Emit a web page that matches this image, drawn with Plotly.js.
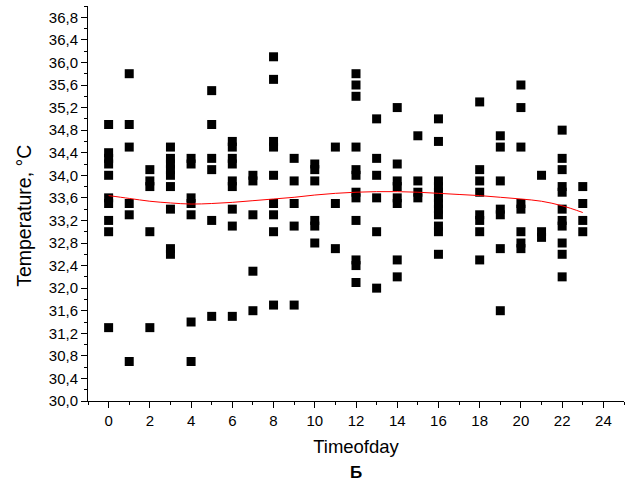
<!DOCTYPE html>
<html><head><meta charset="utf-8">
<script src="https://cdn.plot.ly/plotly-3.0.1.min.js"></script>
<style>body{margin:0;background:#fff}#c{width:627px;height:486px}</style>
</head><body><div id="c"></div>
<script>
// Observations: hour of day -> list of temperatures
const hours = [0,1,2,3,4,5,6,7,8,9,10,11,12,13,14,15,16,18,19,20,21,22,23];
const temps = [
  [34.9,34.4,34.3,34.2,34.0,33.6,33.5,33.2,33.0,31.3],
  [35.8,34.9,34.5,33.5,33.3,30.7],
  [34.1,33.9,33.8,33.0,31.3],
  [34.5,34.3,34.2,34.1,34.0,33.8,33.4,32.7,32.6],
  [34.3,34.2,33.6,33.5,33.3,31.4,30.7],
  [35.5,34.9,34.3,34.1,33.2,31.5],
  [34.6,34.5,34.3,34.2,33.9,33.8,33.4,33.1,31.5],
  [34.0,33.9,33.3,32.3,31.6],
  [36.1,35.7,34.6,34.5,34.0,33.5,33.3,33.0,31.7],
  [34.3,33.9,33.5,33.1,31.7],
  [34.2,34.1,33.9,33.2,33.1,32.8],
  [34.5,33.5,32.7],
  [35.8,35.6,35.4,34.5,34.1,34.0,33.7,33.6,33.2,32.5,32.4,32.1],
  [35.0,34.3,34.0,33.6,33.0,32.0],
  [35.2,34.2,33.9,33.8,33.6,33.5,32.5,32.2],
  [34.7,33.9,33.7,33.6],
  [35.0,34.6,33.9,33.8,33.7,33.6,33.5,33.4,33.3,33.1,33.0,32.6],
  [35.3,34.1,33.9,33.7,33.3,33.2,33.0,32.5],
  [34.7,34.5,33.9,33.4,33.3,32.7,31.6],
  [35.6,35.2,34.5,33.5,33.4,33.0,32.8,32.7],
  [34.0,33.0,32.9],
  [34.8,34.3,34.1,33.8,33.7,33.4,33.2,33.1,32.8,32.6,32.2],
  [33.8,33.5,33.2,33.0]
];
// Fitted curve
const fitX = [0,1,2,3,4,5,6,7,8,9,10,11,12,13,14,15,16,17,18,19,20,21,22,23];
const fitY = [33.64,33.59,33.54,33.51,33.49,33.50,33.52,33.55,33.58,33.61,33.65,33.68,33.70,33.71,33.71,33.70,33.68,33.66,33.64,33.61,33.58,33.54,33.46,33.34];

const xs = [], ys = [];
hours.forEach((h, i) => temps[i].forEach(t => { xs.push(h); ys.push(t); }));

const font = 'Liberation Sans, Arial, sans-serif';
const data = [
  {x: xs, y: ys, type: 'scatter', mode: 'markers',
   marker: {symbol: 'square', size: 9, color: '#000'}, hoverinfo: 'skip'},
  {x: fitX, y: fitY, type: 'scatter', mode: 'lines',
   line: {color: '#ff0000', width: 1, shape: 'spline'}, hoverinfo: 'skip'}
];
const layout = {
  width: 627, height: 486,
  margin: {l: 88, r: 3, t: 6, b: 85},
  paper_bgcolor: '#fff', plot_bgcolor: '#fff',
  showlegend: false,
  separators: ',.',
  font: {family: font, size: 15, color: '#000'},
  xaxis: {
    range: [-1, 25], tick0: 0, dtick: 2, showgrid: false, zeroline: false,
    showline: true, linecolor: '#000', linewidth: 1,
    ticks: 'outside', ticklen: 6, tickcolor: '#000',
    minor: {dtick: 1, ticks: 'outside', ticklen: 3, tickcolor: '#000', showgrid: false},
    tickfont: {size: 15},
    title: {text: 'Timeofday', font: {size: 18.5}, standoff: 12}
  },
  yaxis: {
    range: [30, 37], tick0: 30, dtick: 0.4, tickformat: '.1f', showgrid: false, zeroline: false,
    showline: true, linecolor: '#000', linewidth: 1,
    ticks: 'outside', ticklen: 6, tickcolor: '#000',
    minor: {dtick: 0.2, ticks: 'outside', ticklen: 3, tickcolor: '#000', showgrid: false},
    tickfont: {size: 15}
  },
  annotations: [
    {text: 'Temperature, °C', textangle: -90, xref: 'paper', yref: 'paper',
     x: -0.12, y: 0.468, xanchor: 'center', yanchor: 'middle', showarrow: false,
     font: {size: 19.5}},
    {text: '<b>Б</b>', xref: 'paper', yref: 'paper', x: 0.5, y: -0.18,
     xanchor: 'center', yanchor: 'middle', showarrow: false, font: {size: 17}}
  ]
};
Plotly.newPlot('c', data, layout, {displayModeBar: false, staticPlot: true});
</script></body></html>
